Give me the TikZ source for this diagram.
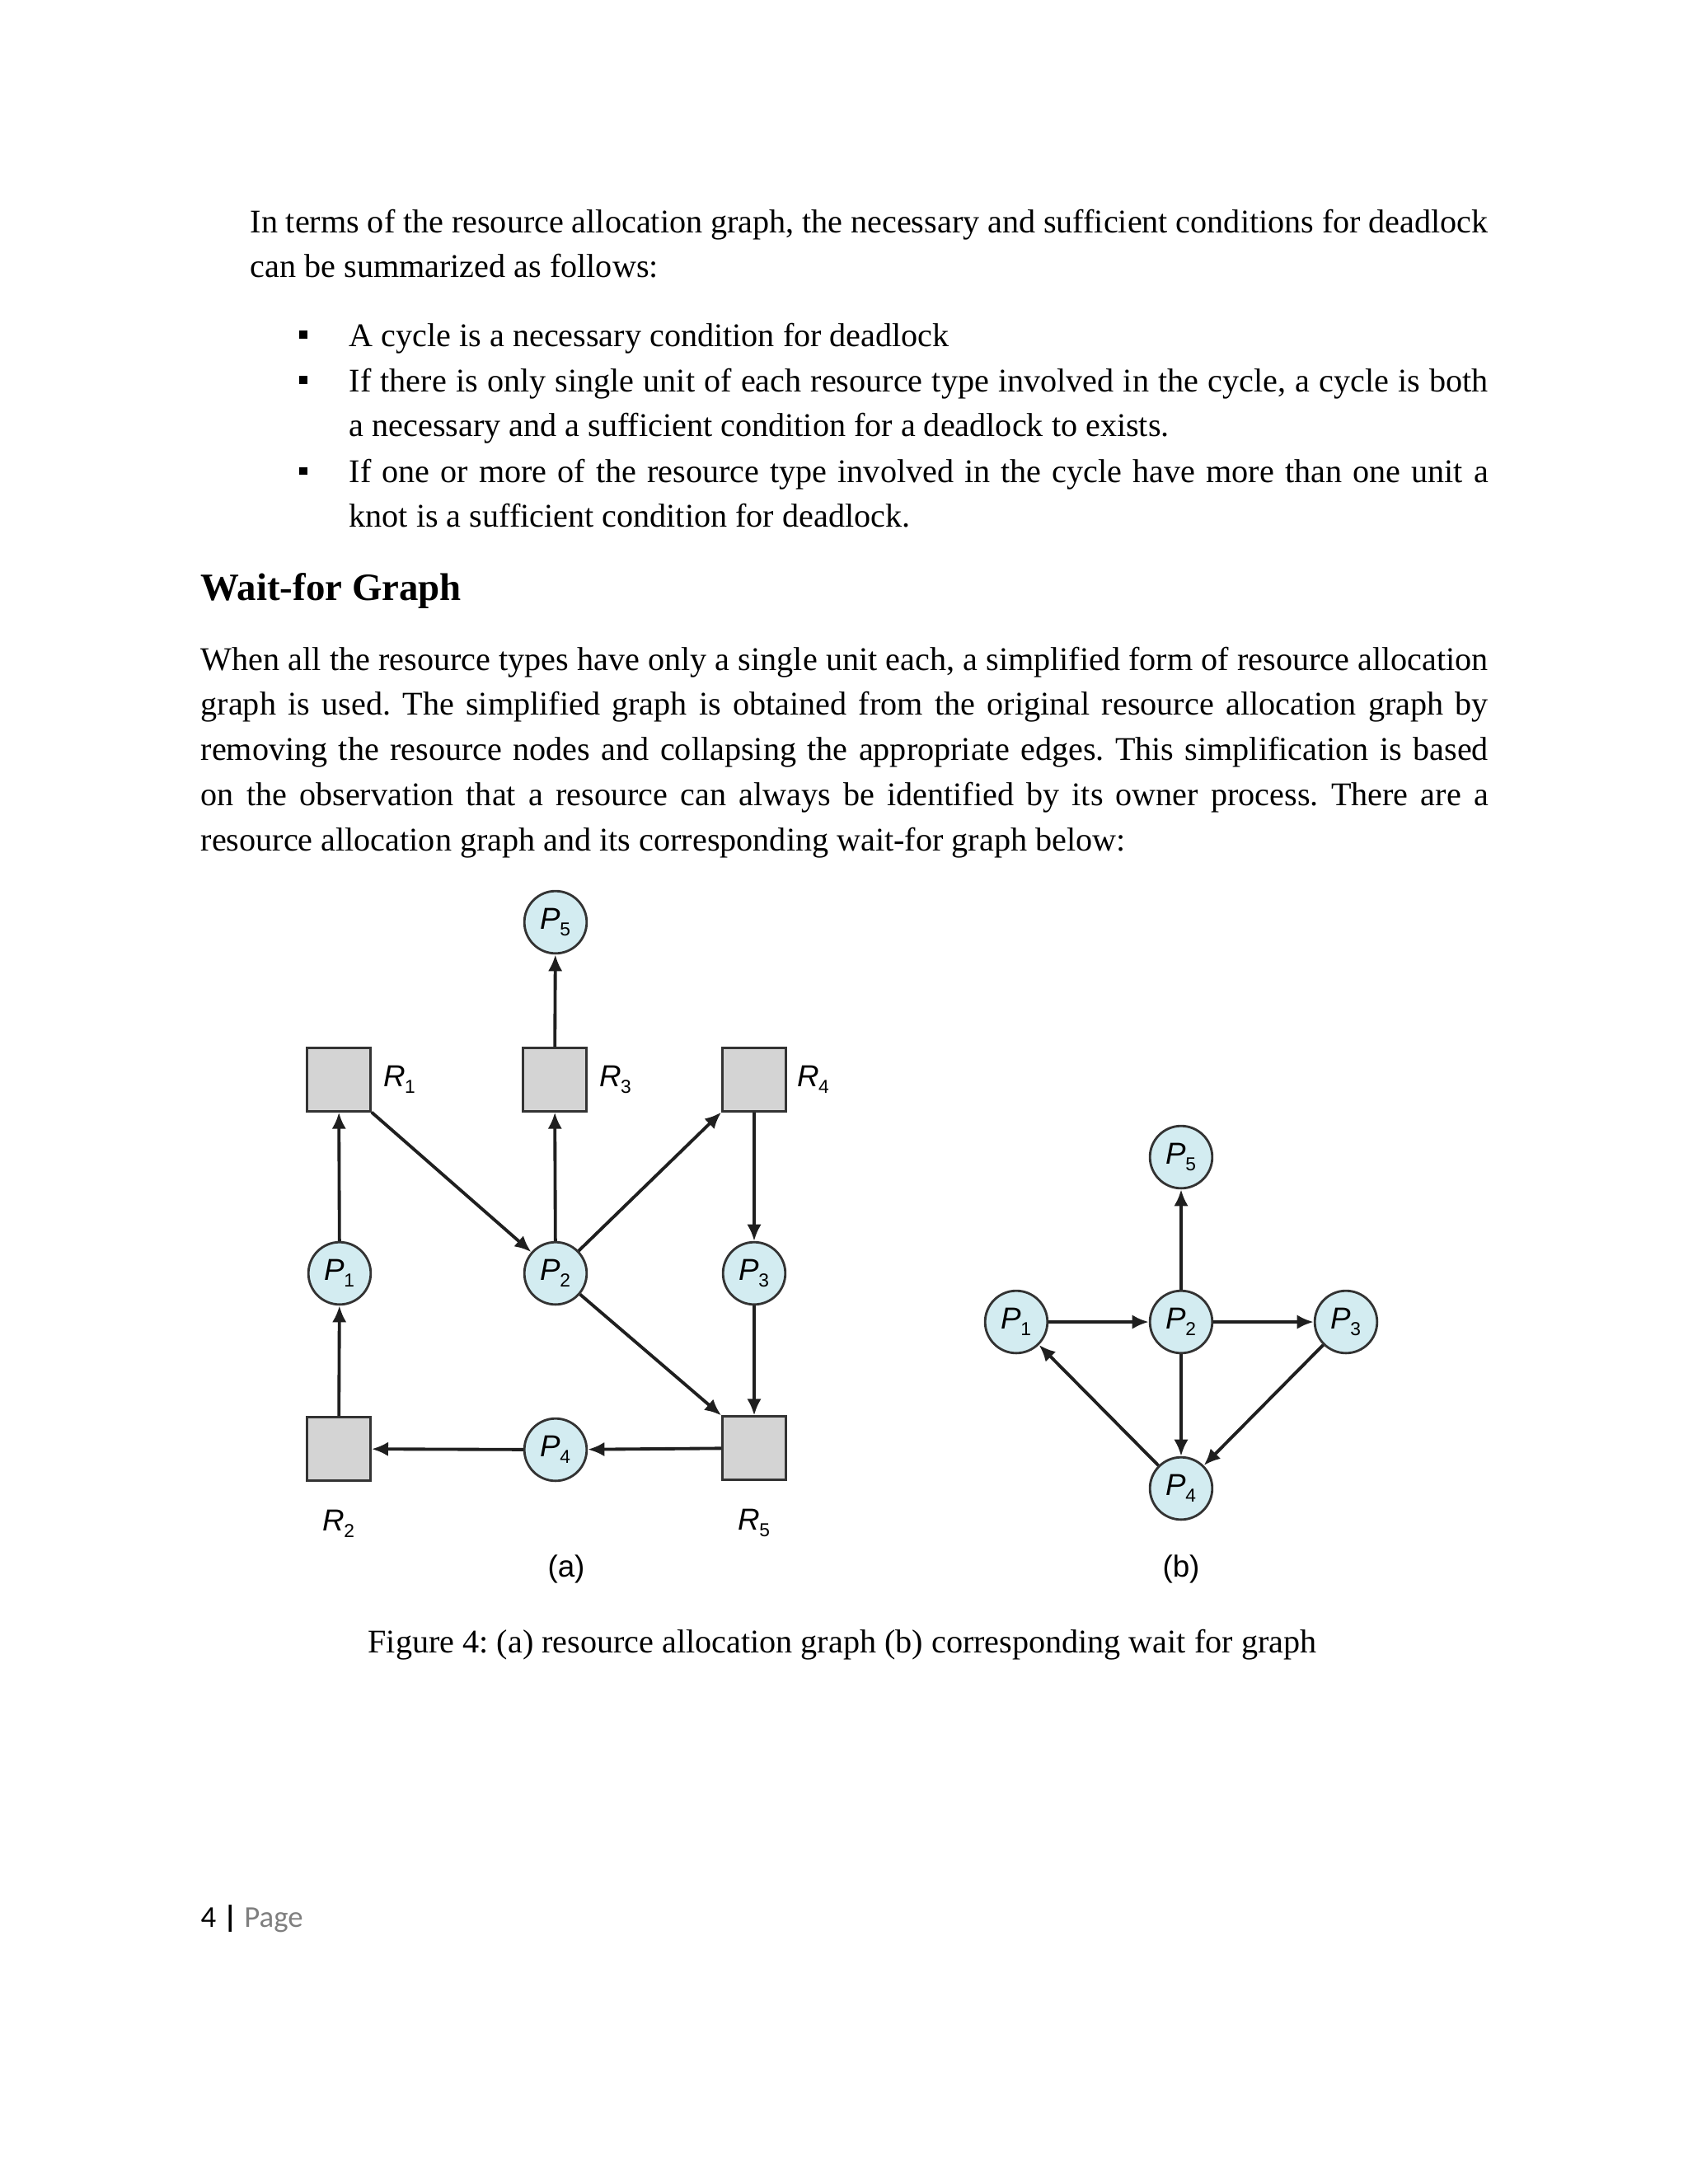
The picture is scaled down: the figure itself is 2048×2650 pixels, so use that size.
\documentclass[tikz,border=0pt]{standalone}
\usepackage{fontspec}
\setmainfont{Liberation Serif}
\setsansfont{Liberation Sans}
\newfontfamily\footfont{Carlito}
\usepackage{xcolor}
\usetikzlibrary{arrows.meta,positioning}
\definecolor{procfill}{HTML}{D3ECF1}
\definecolor{resfill}{HTML}{D4D4D4}
\definecolor{edgecol}{HTML}{333333}
\definecolor{pagegray}{HTML}{7F7F7F}
\tolerance=9999
\frenchspacing
\tikzset{
  body/.style={anchor=base west, inner sep=0pt, align=justify,
    font=\fontsize{12}{16.4}\selectfont},
  proc/.style={circle, draw=edgecol, line width=0.85pt, fill=procfill,
    minimum size=22.6pt, inner sep=0pt, font=\sffamily\fontsize{11}{11}\selectfont},
  res/.style={rectangle, draw=edgecol, line width=0.85pt, fill=resfill,
    minimum width=23pt, minimum height=22.8pt, inner sep=0pt},
  reslabel/.style={inner sep=0pt, font=\sffamily\fontsize{11}{11}\selectfont},
  bul/.style={fill=black, minimum size=2.7pt, inner sep=0pt},
  arrow/.style={-{Latex[length=6pt,width=5.2pt]}, line width=1.15pt, black!88},
}
\newcommand\pn[2]{\textit{#1}\kern-0.3pt\raisebox{-2.4pt}{\fontsize{6.8}{6.8}\selectfont #2}}

\begin{document}
\begin{tikzpicture}[x=0.29883pt, y=-0.29883pt]
  \fill[white] (0,0) rectangle (2048,2650);
  \useasboundingbox (0,0) rectangle (2048,2650);

  % text above the figure
  \node[body, text width=448.8pt] (intro) at (303,282)
    {In terms of the resource allocation graph, the necessary and sufficient conditions for deadlock\linebreak
     can be summarized as follows:};
  \node[bul] (b1) at (368,406) {};
  \node[bul] (b2) at (368,461) {};
  \node[bul] (b3) at (368,571) {};
  \node[body, text width=413pt] (item1) at (423,420)
    {A cycle is a necessary condition for deadlock};
  \node[body, text width=413pt] (item2) at (423,475)
    {If there is only single unit of each resource type involved in the cycle, a cycle is both\linebreak
     a necessary and a sufficient condition for a deadlock to exists.};
  \node[body, text width=413pt] (item3) at (423,585)
    {If one or more of the resource type involved in the cycle have more than one unit a\linebreak
     knot is a sufficient condition for deadlock.};
  \node[anchor=base west, inner sep=0pt, font=\fontsize{14}{16}\selectfont\bfseries]
    (head) at (243,728) {Wait-for Graph};
  \node[body, text width=466.8pt] (para) at (243,813)
    {When all the resource types have only a single unit each, a simplified form of resource allocation\linebreak
     graph is used. The simplified graph is obtained from the original resource allocation graph by\linebreak
     removing the resource nodes and collapsing the appropriate edges. This simplification is based\linebreak
     on the observation that a resource can always be identified by its owner process. There are a\linebreak
     resource allocation graph and its corresponding wait-for graph below:};

  % (a) resource allocation graph
  \node[proc] (p5a) at (674,1119) {\pn{P}{5}};
  \node[res] (r1) at (411,1310) {};
  \node[res] (r3) at (673,1310) {};
  \node[res] (r4) at (915,1310) {};
  \node[proc] (p1a) at (412,1545) {\pn{P}{1}};
  \node[proc] (p2a) at (674,1545) {\pn{P}{2}};
  \node[proc] (p3a) at (915,1545) {\pn{P}{3}};
  \node[res] (r2) at (411,1758) {};
  \node[proc] (p4a) at (674,1759) {\pn{P}{4}};
  \node[res] (r5) at (915,1757) {};
  \node[reslabel, right=4.2pt of r1] (r1lab) {\pn{R}{1}};
  \node[reslabel, right=4.2pt of r3] (r3lab) {\pn{R}{3}};
  \node[reslabel, right=3.6pt of r4] (r4lab) {\pn{R}{4}};
  \node[reslabel, below=10pt of r2] (r2lab) {\pn{R}{2}};
  \node[reslabel, below=10pt of r5] (r5lab) {\pn{R}{5}};
  \node[reslabel] (capa) at (687,1904) {(a)};

  \draw[arrow] (p1a) -- (r1);
  \draw[arrow] (r2) -- (p1a);
  \draw[arrow] (r1.south east) -- (p2a);
  \draw[arrow] (p2a) -- (r3);
  \draw[arrow] (r3) -- (p5a);
  \draw[arrow] (p2a) -- (r4.south west);
  \draw[arrow] (r4) -- (p3a);
  \draw[arrow] (p3a) -- (r5);
  \draw[arrow] (p2a) -- (r5.north west);
  \draw[arrow] (r5) -- (p4a);
  \draw[arrow] (p4a) -- (r2);

  % (b) wait-for graph
  \node[proc] (p5b) at (1433,1404) {\pn{P}{5}};
  \node[proc] (p1b) at (1233,1604) {\pn{P}{1}};
  \node[proc] (p2b) at (1433,1604) {\pn{P}{2}};
  \node[proc] (p3b) at (1633,1604) {\pn{P}{3}};
  \node[proc] (p4b) at (1433,1806) {\pn{P}{4}};
  \node[reslabel] (capb) at (1433,1904) {(b)};

  \draw[arrow] (p1b) -- (p2b);
  \draw[arrow] (p2b) -- (p3b);
  \draw[arrow] (p2b) -- (p5b);
  \draw[arrow] (p2b) -- (p4b);
  \draw[arrow] (p3b) -- (p4b);
  \draw[arrow] (p4b) -- (p1b);

  % caption and footer
  \node[anchor=base, inner sep=0pt, font=\fontsize{12}{14}\selectfont]
    (caption) at (1022,2005)
    {Figure 4: (a) resource allocation graph (b) corresponding wait for graph};
  \node[anchor=base west, inner sep=0pt, font=\footfont\fontsize{11}{13}\selectfont]
    (footer) at (243,2338) {4 \textbf{|} \textcolor{pagegray}{Page}};
\end{tikzpicture}
\end{document}
